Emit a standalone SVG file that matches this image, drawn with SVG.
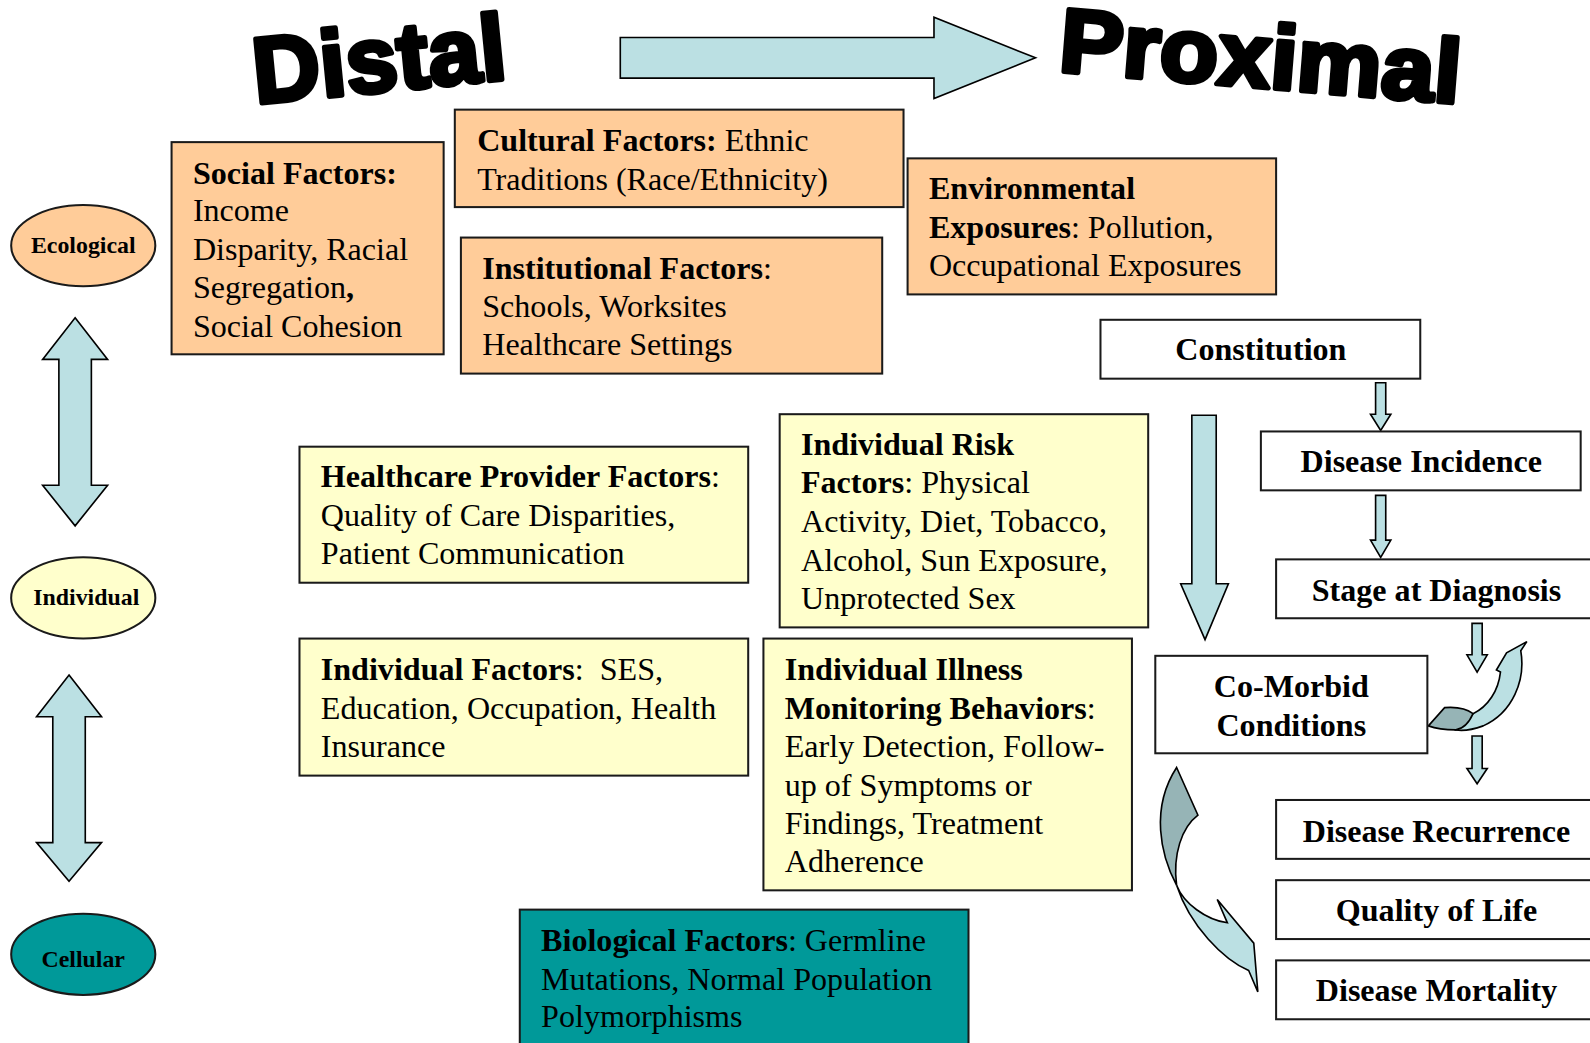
<svg xmlns="http://www.w3.org/2000/svg" width="1590" height="1043" viewBox="0 0 1590 1043">
<style>
.box{stroke:#1a1a1a;stroke-width:2}
.or{fill:#FFCC99}
.ye{fill:#FFFFCC}
.te{fill:#009999}
.wh{fill:#FFFFFF}
.arr{fill:#BBE0E3;stroke:#000;stroke-width:1.6;stroke-linejoin:miter}
.dk{fill:#96B4B6;stroke:#000;stroke-width:1.6}
.t{font-family:"Liberation Serif","Times New Roman",serif;font-size:31.6px;fill:#000}
.b{font-weight:bold}
.c{text-anchor:middle}
.el{font-family:"Liberation Serif","Times New Roman",serif;font-size:23.5px;font-weight:bold;text-anchor:middle;fill:#000}
.title{font-family:"Liberation Sans",Arial,sans-serif;font-weight:bold;fill:#000;stroke:#000;stroke-width:5;stroke-linejoin:round}
</style>
<rect width="1590" height="1043" fill="#fff"/>
<g id="diagram" transform="scale(1.0152)">
<g id="title">
<text class="title" x="252" y="102" font-size="92" transform="rotate(-5.6 252 102)" textLength="250" lengthAdjust="spacingAndGlyphs">Distal</text>
<text class="title" x="1042" y="70" font-size="89" transform="rotate(4.6 1042 70)" textLength="396" lengthAdjust="spacingAndGlyphs">Proximal</text>
</g>
<g id="connectors">
<path id="distal-proximal" class="arr" d="M611,37 L920,37 L920,17 L1020,57 L920,97 L920,77 L611,77 Z"/>
<path id="eco-ind" class="arr" d="M74,313 L106,354 L90,354 L90,478 L106,478 L74,518 L42,478 L58,478 L58,354 L42,354 Z"/>
<path id="ind-cell" class="arr" d="M68,665 L100,706 L84,706 L84,830 L100,830 L68,868 L36,830 L52,830 L52,706 L36,706 Z"/>
<path id="down-big" class="arr" d="M1174,409 L1198,409 L1198,575 L1210,575 L1187,630 L1163,575 L1174,575 Z"/>
<path id="const-inc" class="arr" d="M1355,377 L1365,377 L1365,408 L1370,408 L1360,424 L1350,408 L1355,408 Z"/>
<path id="inc-stage" class="arr" d="M1355,488 L1365,488 L1365,532 L1370,532 L1360,549 L1350,532 L1355,532 Z"/>
<path id="stage-down" class="arr" d="M1450,614 L1460,614 L1460,645 L1465,645 L1455,662 L1445,645 L1450,645 Z"/>
<path id="to-recur" class="arr" d="M1450,725 L1460,725 L1460,757 L1465,757 L1455,772 L1445,757 L1450,757 Z"/>
<g id="curve-right">
<path class="arr" d="M1451,703 C1466,696 1476,680 1478,662 L1474,660 L1484,643 L1504,632 L1498,641 C1503,670 1490,702 1461,715 C1450,719 1440,720 1434,719 Z"/>
<path class="dk" d="M1407,715 L1423,697 C1436,696 1446,699 1451,703 C1447,712 1441,718 1434,719 C1424,719 1415,718 1407,715 Z"/>
</g>
<g id="curve-left">
<path class="arr" d="M1159,872 C1166,890 1188,906 1209,909 L1199,886 L1235,929 L1239,977 L1230,956 C1205,945 1172,912 1159,872 Z"/>
<path class="dk" d="M1159,756 L1180,803 C1164,815 1155,842 1159,872 C1143,842 1133,796 1159,756 Z"/>
</g>
</g>
<g id="levels">
<g id="ecological"><ellipse cx="82" cy="242" rx="71" ry="40" class="box or"/><text class="el" x="82" y="249">Ecological</text></g>
<g id="individual"><ellipse cx="82" cy="589" rx="71" ry="40" class="box ye"/><text class="el" x="85" y="596">Individual</text></g>
<g id="cellular"><ellipse cx="82" cy="940" rx="71" ry="40" class="box te"/><text class="el" x="82" y="953">Cellular</text></g>
</g>
<g id="social"><rect x="169" y="140" width="268" height="209" class="box or"/>
<text class="t"><tspan x="190" y="181" class="b">Social Factors:</tspan><tspan x="190" y="218">Income</tspan><tspan x="190" y="256">Disparity, Racial</tspan><tspan x="190" y="294">Segregation<tspan class="b">,</tspan></tspan><tspan x="190" y="332">Social Cohesion</tspan></text></g>
<g id="cultural"><rect x="448" y="108" width="442" height="96" class="box or"/>
<text class="t"><tspan x="470" y="149"><tspan class="b">Cultural Factors:</tspan> Ethnic</tspan><tspan x="470" y="187">Traditions (Race/Ethnicity)</tspan></text></g>
<g id="institutional"><rect x="454" y="234" width="415" height="134" class="box or"/>
<text class="t"><tspan x="475" y="275"><tspan class="b">Institutional Factors</tspan>:</tspan><tspan x="475" y="312">Schools, Worksites</tspan><tspan x="475" y="350">Healthcare Settings</tspan></text></g>
<g id="environmental"><rect x="894" y="156" width="363" height="134" class="box or"/>
<text class="t"><tspan x="915" y="196" class="b">Environmental</tspan><tspan x="915" y="234"><tspan class="b">Exposures</tspan>: Pollution,</tspan><tspan x="915" y="272">Occupational Exposures</tspan></text></g>
<g id="provider"><rect x="295" y="440" width="442" height="134" class="box ye"/>
<text class="t"><tspan x="316" y="480"><tspan class="b">Healthcare Provider Factors</tspan>:</tspan><tspan x="316" y="518">Quality of Care Disparities,</tspan><tspan x="316" y="556">Patient Communication</tspan></text></g>
<g id="risk"><rect x="768" y="408" width="363" height="210" class="box ye"/>
<text class="t"><tspan x="789" y="448" class="b">Individual Risk</tspan><tspan x="789" y="486"><tspan class="b">Factors</tspan>: Physical</tspan><tspan x="789" y="524">Activity, Diet, Tobacco,</tspan><tspan x="789" y="562">Alcohol, Sun Exposure,</tspan><tspan x="789" y="600">Unprotected Sex</tspan></text></g>
<g id="indfactors"><rect x="295" y="629" width="442" height="135" class="box ye"/>
<text class="t"><tspan x="316" y="670"><tspan class="b">Individual Factors</tspan>:&#160; SES,</tspan><tspan x="316" y="708">Education, Occupation, Health</tspan><tspan x="316" y="746">Insurance</tspan></text></g>
<g id="illness"><rect x="752" y="629" width="363" height="248" class="box ye"/>
<text class="t"><tspan x="773" y="670" class="b">Individual Illness</tspan><tspan x="773" y="708"><tspan class="b">Monitoring Behaviors</tspan>:</tspan><tspan x="773" y="746">Early Detection, Follow-</tspan><tspan x="773" y="784">up of Symptoms or</tspan><tspan x="773" y="822">Findings, Treatment</tspan><tspan x="773" y="859">Adherence</tspan></text></g>
<g id="biological"><rect x="512" y="896" width="442" height="160" class="box te"/>
<text class="t"><tspan x="533" y="937"><tspan class="b">Biological Factors</tspan>: Germline</tspan><tspan x="533" y="975">Mutations, Normal Population</tspan><tspan x="533" y="1012">Polymorphisms</tspan></text></g>
<g id="constitution"><rect x="1084" y="315" width="315" height="58" class="box wh"/><text class="t b c" x="1242" y="355">Constitution</text></g>
<g id="incidence"><rect x="1242" y="425" width="315" height="58" class="box wh"/><text class="t b c" x="1400" y="465">Disease Incidence</text></g>
<g id="stage"><rect x="1257" y="551" width="340" height="58" class="box wh"/><text class="t b c" x="1415" y="592">Stage at Diagnosis</text></g>
<g id="comorbid"><rect x="1138" y="646" width="268" height="96" class="box wh"/><text class="t b c"><tspan x="1272" y="687">Co-Morbid</tspan><tspan x="1272" y="725">Conditions</tspan></text></g>
<g id="recurrence"><rect x="1257" y="788" width="340" height="58" class="box wh"/><text class="t b c" x="1415" y="829">Disease Recurrence</text></g>
<g id="quality"><rect x="1257" y="867" width="340" height="58" class="box wh"/><text class="t b c" x="1415" y="907">Quality of Life</text></g>
<g id="mortality"><rect x="1257" y="946" width="340" height="58" class="box wh"/><text class="t b c" x="1415" y="986">Disease Mortality</text></g>
</g>
</svg>
